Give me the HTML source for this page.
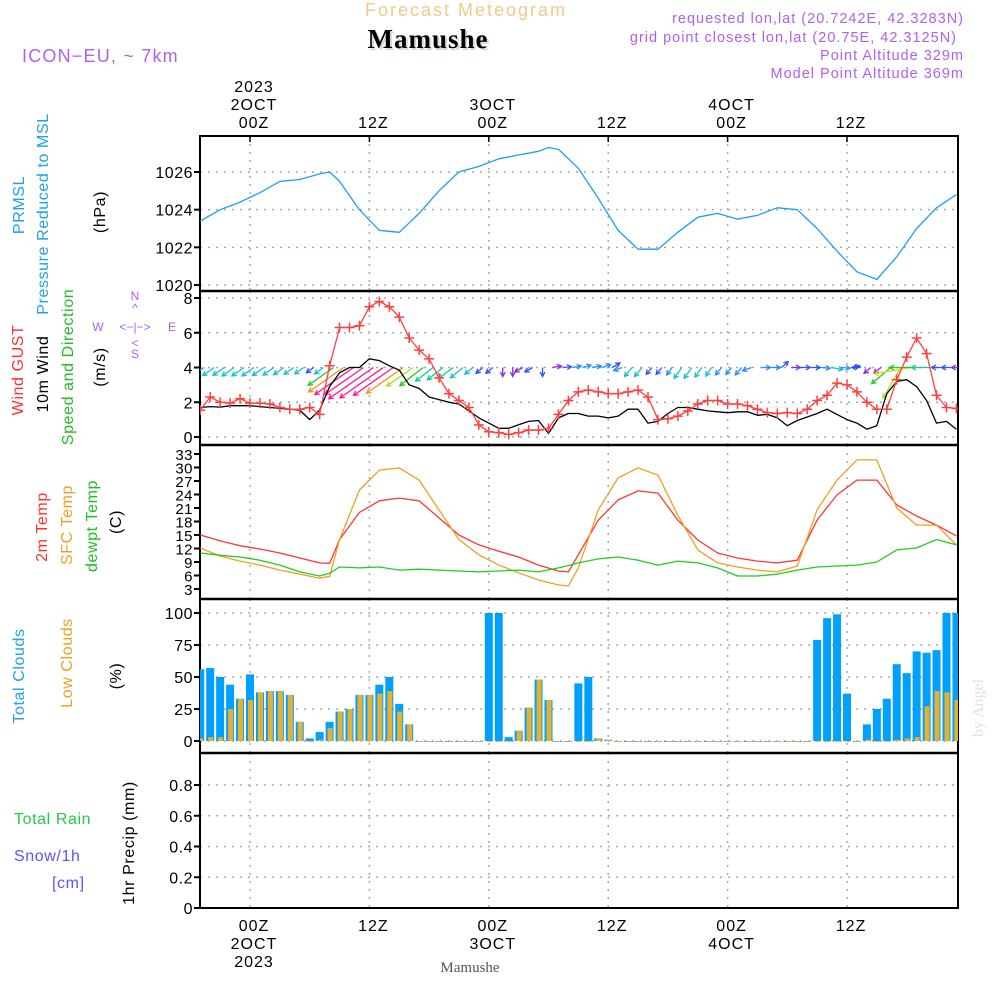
<!DOCTYPE html>
<html><head><meta charset="utf-8"><style>
html,body{margin:0;padding:0;background:#fff;}
svg{display:block;font-family:"Liberation Sans",sans-serif;}
</style></head><body>
<svg id="c" width="1000" height="1000" viewBox="0 0 1000 1000" xmlns="http://www.w3.org/2000/svg">
<g>
<text x="466" y="16" text-anchor="middle" font-size="18" fill="#f4c88a" letter-spacing="2">Forecast Meteogram</text>
<text x="430" y="50" text-anchor="middle" font-size="27" font-weight="bold" font-family="Liberation Serif, serif" fill="#cfdccf" letter-spacing="1">Mamushe</text>
<text x="428" y="48" text-anchor="middle" font-size="27" font-weight="bold" font-family="Liberation Serif, serif" fill="#000" letter-spacing="1">Mamushe</text>
<text x="22" y="62" font-size="18" fill="#b060f0" letter-spacing="1.2">ICON−EU, ~ 7km</text>
<g font-size="14.5" fill="#b060f0" text-anchor="end" letter-spacing="1">
<text x="964" y="23">requested lon,lat (20.7242E, 42.3283N)</text>
<text x="957" y="42">grid point closest lon,lat (20.75E, 42.3125N)</text>
<text x="964" y="60">Point Altitude 329m</text>
<text x="964" y="78">Model Point Altitude 369m</text>
</g>
</g>
<g id="axes"></g>
<g id="marks"></g>
<g font-size="16" letter-spacing="0.6">
<text transform="translate(24,205) rotate(-90)" text-anchor="middle" fill="#1fa0f0">PRMSL</text>
<text transform="translate(48,214) rotate(-90)" text-anchor="middle" fill="#1fa0f0">Pressure Reduced to MSL</text>
<text transform="translate(105,212) rotate(-90)" text-anchor="middle" fill="#000">(hPa)</text>
<text transform="translate(23,370) rotate(-90)" text-anchor="middle" fill="#ff3030">Wind GUST</text>
<text transform="translate(48,374) rotate(-90)" text-anchor="middle" fill="#000">10m Wind</text>
<text transform="translate(73,367) rotate(-90)" text-anchor="middle" fill="#22bb22">Speed and Direction</text>
<text transform="translate(105,367) rotate(-90)" text-anchor="middle" fill="#000">(m/s)</text>
<g font-size="12" fill="#b060f0" text-anchor="middle" letter-spacing="0">
<text x="135" y="300">N</text><text x="135" y="312">^</text><text x="135" y="331">&lt;−|−&gt;</text><text x="135" y="347">&lt;</text><text x="135" y="358">S</text>
<text x="98" y="331">W</text><text x="172" y="331">E</text>
</g>
<text transform="translate(47,527) rotate(-90)" text-anchor="middle" fill="#ff3030">2m Temp</text>
<text transform="translate(72,525) rotate(-90)" text-anchor="middle" fill="#f0a020">SFC Temp</text>
<text transform="translate(97,526) rotate(-90)" text-anchor="middle" fill="#22bb22">dewpt Temp</text>
<text transform="translate(121,522) rotate(-90)" text-anchor="middle" fill="#000">(C)</text>
<text transform="translate(24,676) rotate(-90)" text-anchor="middle" fill="#1fa0f0">Total Clouds</text>
<text transform="translate(72,663) rotate(-90)" text-anchor="middle" fill="#f0a020">Low Clouds</text>
<text transform="translate(121,676) rotate(-90)" text-anchor="middle" fill="#000">(%)</text>
<text x="14" y="824" fill="#22cc44">Total   Rain</text>
<text x="14" y="861" fill="#5555ff">Snow/1h</text>
<text x="52" y="888" fill="#5555ff">[cm]</text>
<text transform="translate(134,843) rotate(-90)" text-anchor="middle" fill="#000">1hr Precip (mm)</text>
</g>
<text transform="translate(983,708) rotate(-90)" text-anchor="middle" font-size="16" font-family="Liberation Serif, serif" fill="#dde3dd">by Angel</text>
<text x="470" y="972" text-anchor="middle" font-size="15" font-family="Liberation Serif, serif" fill="#555">Mamushe</text>
</svg>
<script>
// ---- data ----
var hours = [];
for (var i = -5; i <= 71; i++) hours.push(i);
var pHours = [-5,-3,-1,1,3,5,7,8,9,11,13,15,17,19,21,23,25,27,29,30,31,33,35,37,39,41,43,45,47,49,51,53,55,57,59,61,63,65,67,69,71];
var pressure = [1023.4,1024.0,1024.4,1024.9,1025.5,1025.6,1025.9,1026.0,1025.5,1024.0,1022.9,1022.8,1023.8,1025.0,1026.0,1026.3,1026.7,1026.9,1027.1,1027.3,1027.2,1026.2,1024.6,1022.9,1021.9,1021.9,1022.8,1023.6,1023.8,1023.5,1023.7,1024.1,1024.0,1023.0,1021.8,1020.7,1020.3,1021.5,1023.0,1024.1,1024.8];
var gust = [1.55,2.3,2.0,1.95,2.2,1.95,1.95,1.9,1.7,1.6,1.6,1.7,1.3,4.1,6.3,6.3,6.4,7.5,7.8,7.5,6.9,5.7,5.0,4.5,3.4,2.5,2.1,1.7,0.7,0.3,0.25,0.15,0.25,0.4,0.4,0.5,1.3,2.1,2.6,
 2.7,2.6,2.5,2.5,2.6,2.7,2.3,1.0,1.05,1.2,1.5,1.9,2.1,2.1,1.9,1.9,1.8,1.6,1.4,1.35,1.4,1.35,1.6,2.1,2.4,3.1,3.0,2.6,2.0,1.6,1.6,3.3,4.6,5.7,4.8,2.4,1.7,1.65];
var wind10 = [1.7,1.75,1.72,1.8,1.8,1.8,1.75,1.7,1.65,1.6,1.55,1.0,1.55,2.9,3.7,4.0,4.0,4.5,4.4,4.1,3.85,3.0,2.8,2.3,2.15,2.0,1.9,1.5,1.1,0.8,0.5,0.5,0.7,0.9,0.95,0.2,1.1,1.35,1.35,
 1.2,1.2,1.1,1.2,1.6,1.6,0.8,0.9,1.35,1.7,1.7,1.6,1.5,1.45,1.4,1.45,1.45,1.25,1.3,1.1,0.65,0.95,1.15,1.35,1.6,1.3,1.0,0.8,0.45,0.65,2.5,3.2,3.3,2.9,2.1,0.8,0.9,0.45];
var windDir = [145,145,145,145,145,145,145,145,145,145,145,145,145,145,145,145,145,145,145,145,145,145,142,142,142,142,140,140,140,140,90,90,150,150,90,-10,-5,-10,-15,-10,-20,-30,160,130,130,130,130,125,125,125,125,125,130,130,130,160,0,0,-40,0,0,0,5,10,5,-10,180,140,140,140,120,170,180,180,180,180,180];
var tHours = [-5,-3,-1,1,3,5,7,8,9,11,13,15,17,19,21,23,25,27,29,31,32,33,35,37,39,41,43,45,47,49,51,53,55,57,59,61,63,65,67,69,71];
var t2m = [15.0,13.7,12.6,11.9,11.0,9.9,8.8,8.7,14.0,20.0,22.6,23.2,22.6,18.8,15.0,12.8,11.4,10.1,8.3,7.0,6.8,10.6,18.3,22.8,24.8,24.3,18.3,13.9,11.0,9.9,9.2,8.8,9.4,18.3,23.9,27.2,27.2,21.7,19.2,17.2,14.8];
var tSfc = [12.1,10.3,9.2,8.3,7.2,6.3,5.4,5.8,14.0,25.0,29.4,29.9,27.2,20.6,14.0,10.6,8.3,6.6,5.0,3.9,3.7,7.7,20.6,27.7,29.9,28.3,19.4,11.7,8.8,7.9,7.2,6.8,8.1,20.6,27.2,31.7,31.7,21.0,17.2,17.2,12.8];
var dewpt = [11.0,10.5,10.1,9.4,8.3,6.8,5.9,6.5,7.9,7.7,7.9,7.2,7.4,7.2,7.0,6.8,7.0,7.2,6.8,7.7,8.2,8.8,9.7,10.1,9.4,8.3,9.2,8.8,7.7,5.9,5.9,6.3,7.2,7.9,8.1,8.3,9.0,11.7,12.1,14.0,12.8];
var totalClouds = [56,57,50,44,33,52,38,39,39,36,15,2,7,15,23,25,36,36,44,50,29,13,0,0,0,0,0,0,0,100,100,3,8,26,48,32,0,0,45,50,2,1,0,0,0,0,0,0,0,0,0,0,0,0,0,0,0,0,0,0,0,0,79,96,99,37,0,13,25,33,60,53,70,69,71,100,100];
var lowClouds = [2,3,3,25,33,32,38,39,39,36,15,0,1,10,23,25,36,36,37,39,23,13,0,0,0,0,0,0,0,0,0,0,8,26,48,32,0,0,0,0,2,1,0,0,0,0,0,0,0,0,0,0,0,0,0,0,0,0,0,0,0,0,0,0,0,0,0,1,0,0,1,2,3,27,39,38,32];
var precip = [];
for (var j = 0; j < hours.length; j++) precip.push(0);
var pTicks = [1020,1022,1024,1026];
var wTicks = [0,2,4,6,8];
var tTicks = [3,6,9,12,15,18,21,24,27,30,33];
var cTicks = [0,25,50,75,100];
var rTicks = [0,0.2,0.4,0.6,0.8];
var timeTicks = [0,12,24,36,48,60];
var timeLabels = ["00Z","12Z","00Z","12Z","00Z","12Z"];
var dateLabels = ["2OCT","","3OCT","","4OCT",""];

// ---- axes ----
var NS = "http://www.w3.org/2000/svg";
var L = 200, R = 958;
function X(h){ return 250 + h * 9.95; }
function lin(v0, y0, v1, y1){ return function(v){ return y0 + (v - v0) * (y1 - y0) / (v1 - v0); }; }
var Yp = lin(1020, 285, 1026, 172);
var Yw = lin(0, 437, 8, 298);
var Yt = lin(3, 589, 33, 454);
var Yc = lin(0, 741, 100, 613);
var Yr = lin(0, 908, 0.8, 785);
var panels = [[136,291],[291,445],[445,599],[599,753],[753,908]];
function mk(tag, attrs, parent){
  var e = document.createElementNS(NS, tag);
  for (var k in attrs) e.setAttribute(k, attrs[k]);
  parent.appendChild(e);
  return e;
}
var axes = document.getElementById('axes');
var marks = document.getElementById('marks');
var clip = mk('clipPath', {id:'plotclip'}, axes);
mk('rect', {x:L, y:136, width:R-L, height:772}, clip);

panels.forEach(function(p){
  timeTicks.forEach(function(h){
    var g = mk('line', {x1:X(h), x2:X(h), y1:p[0], y2:p[1], stroke:'#aaa', 'stroke-width':1.5, 'stroke-dasharray':'2,6'}, axes);
    
    
  });
});
function hgrid(ticks, Y, lab){
  ticks.forEach(function(v){
    var y = Y(v);
    if (lab.grid) {
      var g = mk('line', {x1:L, x2:R, y1:y, y2:y, stroke:'#aaa', 'stroke-width':1.5, 'stroke-dasharray':'2,6'}, axes);
      
      
    }
    var t = mk('line', {x1:L-6, x2:L, y1:y, y2:y, stroke:'#000', 'stroke-width':2}, axes);
    
    
    var tx = mk('text', {x:L-7, y:y+6, 'text-anchor':'end', 'font-size':lab.fs || 16, fill:'#000', 'letter-spacing':0.5}, axes);
    tx.textContent = String(v);
    
    
  });
}
hgrid(pTicks, Yp, {grid:true});
hgrid(wTicks, Yw, {grid:true});
hgrid(tTicks, Yt, {grid:false, fs:15});
hgrid(cTicks, Yc, {grid:true});
hgrid(rTicks, Yr, {grid:true});

var fr = mk('rect', {x:L, y:136, width:R-L, height:772, fill:'none', stroke:'#000', 'stroke-width':2}, axes);


[291,445,599,753].forEach(function(y){
  var s = mk('line', {x1:L, x2:R, y1:y, y2:y, stroke:'#000', 'stroke-width':2.5}, axes);
  
  
});
var base = mk('line', {x1:L, x2:R, y1:908, y2:908, stroke:'#000', 'stroke-width':2, 'stroke-dasharray':'4,2'}, axes);



timeTicks.forEach(function(h, i){
  var x = X(h) + 4;
  var tt = mk('line', {x1:X(h), x2:X(h), y1:136, y2:142, stroke:'#000', 'stroke-width':1.5}, axes);
  
  
  var a = mk('text', {x:x, y:128, 'text-anchor':'middle', 'font-size':16, 'letter-spacing':1}, axes);
  a.textContent = timeLabels[i];
  
  
  var b = mk('text', {x:x, y:931, 'text-anchor':'middle', 'font-size':16, 'letter-spacing':1}, axes);
  b.textContent = timeLabels[i];
  
  
  if (dateLabels[i]) {
    var c = mk('text', {x:x, y:110, 'text-anchor':'middle', 'font-size':16, 'letter-spacing':1}, axes);
    c.textContent = dateLabels[i];
    
    
    var d = mk('text', {x:x, y:949, 'text-anchor':'middle', 'font-size':16, 'letter-spacing':1}, axes);
    d.textContent = dateLabels[i];
    
    
  }
  if (i === 0) {
    var e1 = mk('text', {x:x, y:92, 'text-anchor':'middle', 'font-size':16, 'letter-spacing':1}, axes);
    e1.textContent = '2023';
    
    
    var e2 = mk('text', {x:x, y:967, 'text-anchor':'middle', 'font-size':16, 'letter-spacing':1}, axes);
    e2.textContent = '2023';
    
    
  }
});

// ---- marks ----
var mg = mk('g', {'clip-path':'url(#plotclip)'}, marks);
function poly(xs, vs, Y, color, w, name){
  var pts = xs.map(function(h, i){ return X(h).toFixed(1) + ',' + Y(vs[i]).toFixed(1); }).join(' ');
  var p = mk('polyline', {points:pts, fill:'none', stroke:color, 'stroke-width':w || 1.3, 'stroke-linejoin':'round'}, mg);
  
  
}
poly(pHours, pressure, Yp, '#1aa0f5', 1.3, 'pressure-line');

hours.forEach(function(h, i){
  var x = X(h);
  var b = mk('rect', {x:x-4, y:Yc(totalClouds[i]), width:8, height:Math.max(Yc(0)-Yc(totalClouds[i]), 0.8), fill:'#00a0ff'}, mg);
  
  
  var l = mk('rect', {x:x-2, y:Yc(lowClouds[i]), width:5, height:Math.max(Yc(0)-Yc(lowClouds[i]), 0.8), fill:'#e8b030'}, mg);
  
  
  if (precip[i] > 0) {
    var pr = mk('rect', {x:x-4, y:Yr(precip[i]), width:8, height:Yr(0)-Yr(precip[i]), fill:'#22cc44'}, mg);
    
    
  }
});

poly(tHours, t2m, Yt, '#ff3535', 1.3, 't2m-line');
poly(tHours, tSfc, Yt, '#eea020', 1.3, 'sfc-temp-line');
poly(tHours, dewpt, Yt, '#22cc22', 1.3, 'dewpt-line');

function wcol(s){
  if (s < 0.8) return '#8a2be2';
  if (s < 1.2) return '#3050ff';
  if (s < 1.5) return '#1e90ff';
  if (s < 2.0) return '#18c0d0';
  if (s < 2.5) return '#10cc90';
  if (s < 3.0) return '#22cc22';
  if (s < 3.3) return '#aadd22';
  if (s < 3.6) return '#e8d020';
  if (s < 3.95) return '#f09020';
  return '#ff1493';
}
hours.forEach(function(h, i){
  var s = wind10[i];
  var len = Math.max(9, 14.7 * s - 11.7);
  var a = windDir[i] * Math.PI / 180;
  var x0 = X(h) + 4, y0 = Yw(4);
  var x1 = x0 + len * Math.cos(a), y1 = y0 + len * Math.sin(a);
  var c = wcol(s);
  var g = mk('g', {stroke:c, 'stroke-width':1.3, fill:'none'}, mg);
  
  
  mk('line', {x1:x0, y1:y0, x2:x1, y2:y1}, g);
  var hl = 5;
  var p1 = [x1 - hl*Math.cos(a-0.5), y1 - hl*Math.sin(a-0.5)];
  var p2 = [x1 - hl*Math.cos(a+0.5), y1 - hl*Math.sin(a+0.5)];
  mk('polyline', {points:p1.join(',') + ' ' + x1 + ',' + y1 + ' ' + p2.join(',')}, g);
});

poly(hours, wind10, Yw, '#000', 1.3, 'wind10-line');
poly(hours, gust, Yw, '#ff4040', 1.3, 'gust-line');
hours.forEach(function(h, i){
  var x = X(h), y = Yw(gust[i]);
  var m = mk('path', {d:'M' + (x-5) + ',' + y + 'h10M' + x + ',' + (y-5) + 'v10', stroke:'#ff4040', 'stroke-width':1.5}, mg);
  
  
});
</script>
</body></html>
